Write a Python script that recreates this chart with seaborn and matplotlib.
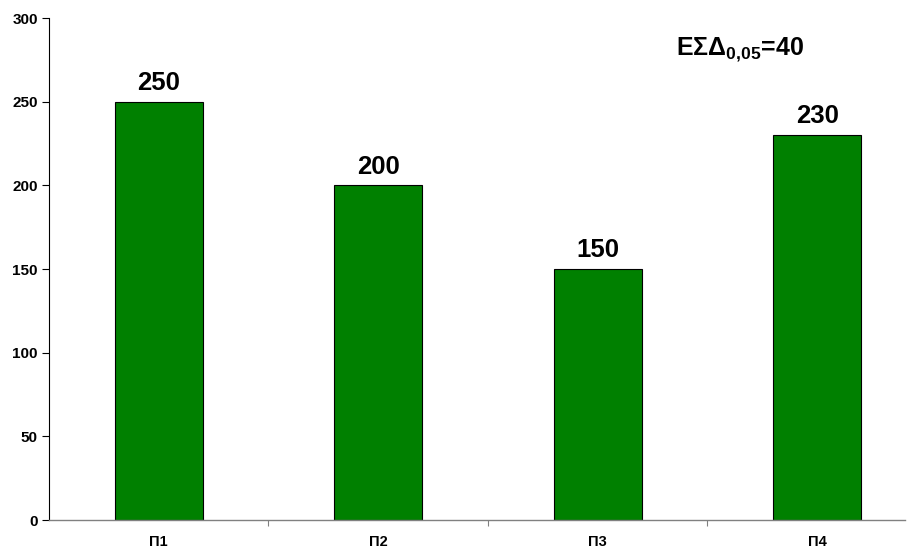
import matplotlib
matplotlib.use("Agg")
import matplotlib.pyplot as plt
import seaborn as sns
import pandas as pd

categories = ["Π1", "Π2", "Π3", "Π4"]
values = [250, 200, 150, 230]
y_ticks = [0, 50, 100, 150, 200, 250, 300]
lsd_label = "ΕΣΔ"
lsd_level = "0{,}05"
lsd_value = 40

sns.set_theme(style="white")
plt.rcParams["font.family"] = ["Liberation Sans", "DejaVu Sans"]
plt.rcParams["mathtext.fontset"] = "custom"
plt.rcParams["mathtext.bf"] = "Liberation Sans:bold"
plt.rcParams["mathtext.rm"] = "Liberation Sans"
plt.rcParams["text.color"] = "black"
plt.rcParams["xtick.color"] = "black"
plt.rcParams["ytick.color"] = "black"

df = pd.DataFrame({"plot": categories, "value": values})

fig = plt.figure(figsize=(9.16, 5.49), dpi=100)
ax = fig.add_axes([0.0535, 0.0528, 0.9345, 0.914])
sns.barplot(data=df, x="plot", y="value", color="#008000", width=0.4,
            edgecolor="black", linewidth=0.8, saturation=1, ax=ax)

for c in ax.containers:
    ax.bar_label(c, padding=5, fontsize=18.5, fontweight="bold", color="black")

ax.set_xlim(-0.5, 3.4)
ax.set_ylim(0, 300)
ax.set_yticks(y_ticks)
ax.set_yticklabels([str(t) for t in y_ticks], fontsize=11, fontweight="bold")
ax.set_xticks(range(len(categories)))
ax.set_xticklabels(categories, fontsize=10.5, fontweight="bold")
ax.set_xticks([0.5, 1.5, 2.5], minor=True)
ax.tick_params(axis="x", which="major", length=0, pad=11)
ax.tick_params(axis="x", which="minor", length=4, width=0.8, color="#808080", direction="out", bottom=True)
ax.tick_params(axis="y", length=5, width=0.8, color="black", direction="out", left=True, pad=3)
ax.set_xlabel("")
ax.set_ylabel("")

for s in ["top", "right"]:
    ax.spines[s].set_visible(False)
ax.spines["left"].set_color("black")
ax.spines["left"].set_linewidth(0.8)
ax.spines["bottom"].set_color("#808080")
ax.spines["bottom"].set_linewidth(1.0)

ax.text(2.65, 281, lsd_label + r"$_{\mathbf{" + lsd_level + r"}}$" + f"={lsd_value}",
        ha="center", va="center", fontsize=18, fontweight="bold", color="black")

fig.savefig("out.png", dpi=100)
